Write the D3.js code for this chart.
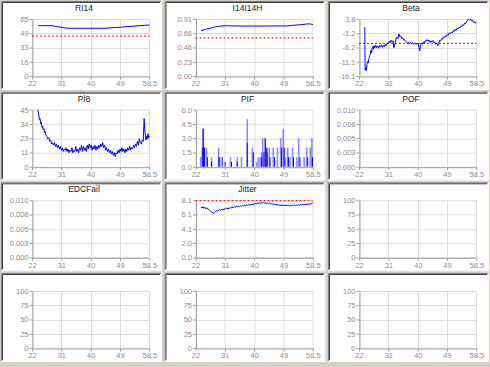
<!DOCTYPE html>
<html><head><meta charset="utf-8">
<script src="https://cdn.jsdelivr.net/npm/d3@7"></script>
<style>
html,body{margin:0;padding:0;background:#d4d0c8;}
svg{display:block;}
text{font-family:"Liberation Sans",Arial,sans-serif;}
</style></head>
<body>
<svg id="c" width="490" height="367"></svg>
<script>
// ---------- data ----------
const xDomain = [22, 58.5];
const xTickLabels = ["22", "31", "40", "49", "58.5"];

const titles = ["RI14", "I14I14H", "Beta", "Pl8", "PIF", "POF", "EDCFail", "Jitter", "", "", "", ""];
const yDomains = [[0,65],[0,0.91],[-16.1,3.8],[0,45],[0,6],[0,0.01],[0,0.01],[0,8.1],[0,100],[0,100],[0,100],[0,100]];
const yTickLabels = [
  ["0","16","33","49","65"],
  ["0.00","0.23","0.46","0.68","0.91"],
  ["-16.1","-11.1","-6.2","-1.2","3.8"],
  ["0","11","23","34","45"],
  ["0.0","1.5","3.0","4.5","6.0"],
  ["0.000","0.003","0.005","0.008","0.010"],
  ["0.000","0.003","0.005","0.008","0.010"],
  ["0.0","2.0","4.1","6.1","8.1"],
  ["0","25","50","75","100"],
  ["0","25","50","75","100"],
  ["0","25","50","75","100"],
  ["0","25","50","75","100"]
];

const ri14 = [[23.9,57.4],[25,57.4],[26,57.5],[27,57.4],[28.2,57.4],[29.5,56.5],[31,55.5],[32,54.9],[33,54.5],[35,54.4],[37,54.4],[40,54.4],[43,54.4],[45.3,54.5],[46.5,55],[48,55.3],[49.4,55.5],[51,56.2],[53,56.6],[55,57.3],[57,57.8],[58.5,58.1]];
const ri14Limit = 45.5;

const i14i14h = [[23.7,0.723],[24.5,0.735],[25.5,0.75],[26.5,0.761],[27.5,0.775],[28.5,0.788],[30,0.797],[31.6,0.803],[33,0.800],[36,0.798],[40,0.798],[44,0.798],[48,0.799],[50.4,0.800],[52.5,0.810],[54.5,0.818],[56.6,0.830],[57.7,0.832],[58.5,0.820]];
const i14i14hLimit = 0.607;

const beta = [[23.8,0.9],[23.9,-14.0],[24.1,-13.2],[24.3,-14.2],[24.5,-12.0],[24.7,-11.0],[24.9,-11.5],[25.1,-10.0],[25.3,-9.0],[25.5,-8.5],[25.7,-7.2],[25.9,-8.0],[26.1,-6.5],[26.3,-5.8],[26.5,-6.8],[26.7,-5.5],[26.9,-6.3],[27.2,-5.4],[27.5,-6.2],[27.8,-5.6],[28.1,-6.4],[28.4,-5.5],[28.7,-6.0],[29.0,-5.2],[29.3,-6.1],[29.6,-5.4],[29.9,-5.9],[30.2,-5.0],[30.5,-5.6],[30.8,-4.6],[31.1,-4.9],[31.4,-4.0],[31.7,-4.5],[32.0,-3.6],[32.3,-4.2],[32.6,-3.8],[32.9,-6.2],[33.2,-4.8],[33.5,-3.2],[33.8,-2.5],[34.1,-3.0],[34.4,-1.4],[34.7,-2.4],[35.0,-2.1],[35.3,-3.0],[35.6,-2.8],[35.9,-3.6],[36.2,-3.4],[36.5,-4.0],[36.8,-4.2],[37.1,-4.6],[37.4,-4.3],[37.7,-4.8],[38.0,-4.4],[38.3,-4.7],[38.6,-4.5],[38.9,-5.0],[39.2,-4.6],[39.5,-4.9],[39.8,-4.7],[40.1,-5.0],[40.4,-4.6],[40.7,-6.2],[40.9,-7.4],[41.1,-5.6],[41.4,-4.7],[41.7,-5.0],[42.0,-4.2],[42.3,-4.6],[42.6,-3.8],[42.9,-4.0],[43.2,-3.4],[43.5,-3.9],[43.8,-3.6],[44.1,-4.4],[44.4,-3.8],[44.7,-4.2],[45.0,-3.7],[45.3,-4.5],[45.6,-4.2],[45.9,-5.0],[46.2,-4.6],[46.5,-5.5],[46.8,-4.8],[47.1,-3.6],[47.4,-3.9],[47.7,-3.0],[48.0,-3.3],[48.3,-2.4],[48.6,-2.8],[48.9,-2.0],[49.2,-2.3],[49.5,-1.5],[49.8,-1.8],[50.1,-1.0],[50.4,-1.4],[50.7,-0.8],[51.0,-1.1],[51.3,-0.3],[51.6,-0.6],[51.9,0.2],[52.2,-0.2],[52.5,0.6],[52.8,0.3],[53.1,1.0],[53.4,0.7],[53.7,1.4],[54.0,1.2],[54.3,1.9],[54.6,1.6],[54.9,2.4],[55.2,2.2],[55.5,2.9],[55.8,3.3],[56.1,3.8],[56.4,3.5],[56.7,3.7],[57.0,3.1],[57.3,3.4],[57.6,2.6],[57.9,2.9],[58.2,2.3],[58.5,2.7]];
const betaLimit = -4.7;

const pl8 = [[23.8,45],[24.1,41],[24.3,37],[24.5,38],[24.7,34],[24.9,35],[25.1,31],[25.3,32],[25.5,29],[25.7,30],[25.9,27],[26.1,28],[26.3,25],[26.6,24],[26.9,22],[27.2,23],[27.5,20],[27.8,21],[28.1,18],[28.4,19],[28.7,17],[29.0,19],[29.3,16],[29.6,18],[29.9,15],[30.2,17],[30.5,14],[30.8,16],[31.1,13],[31.4,15],[31.7,12],[32.0,14],[32.3,13],[32.6,15],[32.9,12],[33.2,14],[33.5,11],[33.8,13],[34.1,12],[34.4,15],[34.7,11],[35.0,13],[35.3,12],[35.6,16],[35.9,12],[36.2,14],[36.5,11],[36.8,15],[37.1,13],[37.4,17],[37.7,12],[38.0,16],[38.3,13],[38.6,15],[38.9,12],[39.2,17],[39.5,14],[39.8,18],[40.1,15],[40.4,17],[40.7,13],[41.0,16],[41.3,14],[41.6,17],[41.9,13],[42.2,16],[42.5,14],[42.8,17],[43.1,15],[43.4,18],[43.7,16],[44.0,19],[44.3,15],[44.6,17],[44.9,13],[45.2,15],[45.5,12],[45.8,14],[46.1,11],[46.4,13],[46.7,10],[47.0,12],[47.3,9],[47.6,11],[47.9,8],[48.2,11],[48.5,10],[48.8,13],[49.1,11],[49.4,14],[49.7,12],[50.0,15],[50.3,12],[50.6,14],[50.9,11],[51.2,14],[51.5,12],[51.8,15],[52.1,13],[52.4,16],[52.7,13],[53.0,15],[53.3,14],[53.6,17],[53.9,15],[54.2,18],[54.5,16],[54.8,20],[55.1,17],[55.4,22],[55.7,19],[56.0,18],[56.3,21],[56.6,20],[56.9,38],[57.1,28],[57.3,25],[57.5,21],[57.7,24],[57.9,22],[58.1,26],[58.3,23],[58.5,24]];

const pifLight = [[23.6,1.0],[24.3,4.0],[25.4,2.0],[27.0,1.0],[29.2,2.0],[29.6,1.0],[32.9,1.0],[35.0,1.0],[36.3,1.0],[38.1,5.0],[39.7,2.0],[41.0,0.5],[41.5,1.0],[42.1,1.0],[42.6,1.5],[42.9,3.0],[43.7,3.0],[44.3,2.0],[45.0,2.0],[46.2,2.0],[47.5,2.0],[48.5,3.0],[49.3,4.0],[50.0,1.0],[50.7,2.0],[51.4,1.0],[52.2,2.0],[53.5,1.0],[54.1,3.0],[55.8,1.0],[56.6,2.0],[57.7,2.0],[58.2,3.0]];
const pifDark = [[24.1,2.0],[24.4,4.0],[24.6,2.0],[24.8,2.0],[25.7,1.0],[27.0,0.5],[29.3,1.0],[30.3,1.0],[31.2,0.5],[33.2,0.5],[35.0,0.5],[38.1,2.5],[40.0,1.5],[42.6,1.0],[43.3,1.5],[43.7,3.0],[44.0,2.0],[44.3,1.5],[45.2,1.0],[46.6,1.0],[48.8,2.0],[49.6,2.0],[50.9,1.0],[52.5,1.0],[54.5,1.0],[56.9,1.0],[58.4,1.0]];

const jitter = [[23.7,7.15],[24.0,7.0],[24.3,7.2],[24.6,6.95],[24.9,7.1],[25.2,6.9],[25.5,7.05],[25.8,6.85],[26.1,6.8],[26.4,6.7],[26.7,6.55],[27.0,6.45],[27.3,6.3],[27.6,6.25],[27.9,6.35],[28.2,6.5],[28.5,6.6],[28.8,6.55],[29.1,6.7],[29.4,6.8],[29.7,6.65],[30.0,6.75],[30.3,6.85],[30.6,6.7],[30.9,6.9],[31.2,6.8],[31.5,6.95],[31.8,7.0],[32.1,6.85],[32.4,7.05],[32.7,6.95],[33.0,7.1],[33.3,7.0],[33.6,7.15],[33.9,7.05],[34.2,7.2],[34.5,7.1],[34.8,7.25],[35.1,7.15],[35.4,7.3],[35.7,7.2],[36.0,7.3],[36.3,7.25],[36.6,7.35],[36.9,7.3],[37.2,7.4],[37.5,7.3],[37.8,7.45],[38.1,7.35],[38.4,7.5],[38.7,7.4],[39.0,7.5],[39.3,7.45],[39.6,7.55],[39.9,7.5],[40.2,7.6],[40.5,7.55],[40.8,7.65],[41.1,7.6],[41.4,7.7],[41.7,7.65],[42.0,7.75],[42.3,7.7],[42.6,7.75],[42.9,7.7],[43.2,7.78],[43.5,7.7],[43.8,7.75],[44.1,7.68],[44.4,7.72],[44.7,7.62],[45.0,7.68],[45.3,7.58],[45.6,7.62],[45.9,7.52],[46.2,7.58],[46.5,7.48],[46.8,7.52],[47.1,7.45],[47.4,7.5],[47.7,7.4],[48.0,7.45],[48.3,7.38],[48.6,7.42],[48.9,7.35],[49.2,7.42],[49.5,7.36],[49.8,7.4],[50.1,7.34],[50.4,7.4],[50.7,7.35],[51.0,7.38],[51.3,7.32],[51.6,7.38],[51.9,7.34],[52.2,7.4],[52.5,7.35],[52.8,7.42],[53.1,7.36],[53.4,7.44],[53.7,7.38],[54.0,7.46],[54.3,7.4],[54.6,7.48],[54.9,7.42],[55.2,7.5],[55.5,7.45],[55.8,7.52],[56.1,7.46],[56.4,7.55],[56.7,7.5],[57.0,7.58],[57.3,7.52],[57.6,7.62],[57.9,7.6],[58.2,7.7],[58.5,7.75]];
const jitterLimit = 8.05;

// ---------- drawing ----------
const svg = d3.select("#c");
svg.append("rect").attr("width",490).attr("height",367).attr("fill","#d4d0c8");

const colLeft = [0, 163.5, 327];
const rowTop = [0, 90.7, 181.3, 272];
const PW = 161, PH = 89;
const plotL = 32, plotW = 117.3, plotT = 19, plotH = 57;

const lines = {0:[ri14], 1:[i14i14h], 2:[beta], 3:[pl8], 7:[jitter]};
const limits = {0:ri14Limit, 1:i14i14hLimit, 2:betaLimit, 7:jitterLimit};

titles.forEach((title, i) => {
  const c = i % 3, r = Math.floor(i / 3);
  const px = colLeft[c], py = rowTop[r];
  const g = svg.append("g").attr("transform", `translate(${px},${py})`);
  // panel with sunken border
  g.append("rect").attr("x",1).attr("y",1).attr("width",PW-1).attr("height",PH-1).attr("fill","#ffffff");
  g.append("path").attr("d",`M1.5,${PH}V1.5H${PW}`).attr("fill","none").attr("stroke","#808080");
  g.append("path").attr("d",`M2.5,${PH-1}V2.5H${PW-1}`).attr("fill","none").attr("stroke","#404040");
  g.append("path").attr("d",`M1,${PH+0.5}H${PW+0.5}V1`).attr("fill","none").attr("stroke","#ffffff");

  const x = d3.scaleLinear().domain(xDomain).range([plotL, plotL + plotW]);
  const y = d3.scaleLinear().domain(yDomains[i]).range([plotT + plotH, plotT]);
  const xTicks = d3.range(5).map(k => xDomain[0] + k * (xDomain[1]-xDomain[0]) / 4);
  const yd = yDomains[i];
  const yTicks = d3.range(5).map(k => yd[0] + k * (yd[1]-yd[0]) / 4);

  // grid
  g.append("g").selectAll("line.v").data(xTicks).join("line")
    .attr("x1", d => Math.round(x(d))+0.5).attr("x2", d => Math.round(x(d))+0.5)
    .attr("y1", plotT).attr("y2", plotT + plotH).attr("stroke","#dcdcdc");
  g.append("g").selectAll("line.h").data(yTicks).join("line")
    .attr("x1", plotL).attr("x2", plotL + plotW)
    .attr("y1", d => Math.round(y(d))+0.5).attr("y2", d => Math.round(y(d))+0.5).attr("stroke","#dcdcdc");

  // axes
  const xa = g.append("g").attr("transform", `translate(0,${Math.round(plotT+plotH)+0.5})`)
    .call(d3.axisBottom(x).tickValues(xTicks).tickSize(3).tickSizeOuter(0).tickFormat((d,k)=>xTickLabels[k]));
  const ya = g.append("g").attr("transform", `translate(${Math.round(plotL)+0.5},0)`)
    .call(d3.axisLeft(y).tickValues(yTicks).tickSize(3).tickSizeOuter(0).tickFormat((d,k)=>yTickLabels[i][k]));
  [xa, ya].forEach(a => {
    a.select(".domain").attr("stroke","#a0a0a0");
    a.selectAll(".tick line").attr("stroke","#a0a0a0");
    a.selectAll(".tick text").attr("fill","#8c8c8c").attr("font-size","7.5px").attr("font-family","Liberation Sans, Arial, sans-serif");
  });
  xa.selectAll(".tick text").attr("dy","0.9em").attr("y",3);
  ya.selectAll(".tick text").attr("x",-4);

  // title
  if (title) g.append("text").attr("x", 84).attr("y", 11).attr("text-anchor","middle")
    .attr("font-size","8.5px").attr("fill","#202020").text(title);

  // limit
  if (limits[i] !== undefined) {
    g.append("line").attr("x1", plotL).attr("x2", plotL + plotW)
      .attr("y1", y(limits[i])).attr("y2", y(limits[i]))
      .attr("stroke","#ff0000").attr("stroke-width",1).attr("stroke-dasharray","2,2");
  }
  // lines
  if (lines[i]) {
    lines[i].forEach(s => {
      g.append("path").datum(s)
        .attr("d", d3.line().x(d => x(d[0])).y(d => y(d[1])))
        .attr("fill","none").attr("stroke","#0000ff").attr("stroke-width",1);
    });
  }
  // PIF spikes
  if (i === 4) {
    g.append("g").selectAll("line").data(pifLight).join("line")
      .attr("x1", d => x(d[0])).attr("x2", d => x(d[0]))
      .attr("y1", y(0)).attr("y2", d => y(d[1]))
      .attr("stroke","#0000ff").attr("stroke-opacity",0.45).attr("stroke-width",1.6);
    g.append("g").selectAll("line").data(pifDark).join("line")
      .attr("x1", d => x(d[0])).attr("x2", d => x(d[0]))
      .attr("y1", y(0)).attr("y2", d => y(d[1]))
      .attr("stroke","#0000ff").attr("stroke-width",1);
  }
});
</script>
</body></html>
